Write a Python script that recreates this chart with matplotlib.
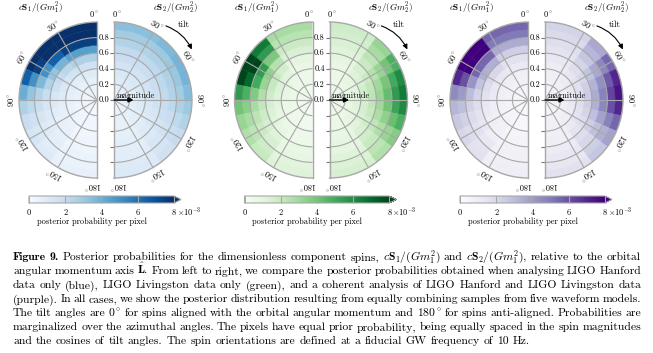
import numpy as np
import matplotlib.pyplot as plt
from matplotlib import cm, colors
from matplotlib.markers import TICKLEFT

plt.rcParams['font.family'] = ['cmr10', 'DejaVu Serif']
plt.rcParams['mathtext.fontset'] = 'cm'
plt.rcParams['axes.unicode_minus'] = False

# pixel grid: equal steps in spin magnitude and in cos(tilt)
magnitude_edges = [0.0, 0.1, 0.2, 0.3, 0.4, 0.5, 0.6, 0.7, 0.8, 0.9, 1.0]
cos_tilt_edges = [1.0, 0.8, 0.6, 0.4, 0.2, 0.0, -0.2, -0.4, -0.6, -0.8, -1.0]
tilt_ticks = [0, 30, 60, 90, 120, 150, 180]
radial_ticks = [0.0, 0.2, 0.4, 0.6, 0.8]
cbar_ticks = [0, 2, 4, 6, 8]

# posterior probability per pixel (x 1e-3)
# rows: magnitude bins 0-0.1 ... 0.9-1.0, columns: cos(tilt) bins 1 -> -1
hanford_s1 = [
    [0.4, 0.4, 0.4, 0.4, 0.3, 0.3, 0.3, 0.3, 0.3, 0.2],
    [0.5, 0.5, 0.5, 0.4, 0.4, 0.4, 0.4, 0.3, 0.3, 0.2],
    [0.7, 0.6, 0.6, 0.6, 0.5, 0.5, 0.4, 0.4, 0.3, 0.3],
    [1.0, 0.9, 0.9, 0.8, 0.7, 0.6, 0.5, 0.5, 0.4, 0.3],
    [1.6, 1.5, 1.3, 1.2, 1.0, 0.8, 0.7, 0.6, 0.5, 0.3],
    [2.6, 2.3, 2.0, 1.7, 1.4, 1.1, 0.9, 0.7, 0.6, 0.4],
    [4.5, 3.8, 3.2, 2.5, 1.9, 1.4, 1.1, 0.9, 0.7, 0.4],
    [7.5, 6.5, 5.0, 3.6, 2.5, 1.8, 1.4, 1.0, 0.8, 0.5],
    [9.5, 9.2, 7.5, 5.0, 3.2, 2.2, 1.6, 1.2, 0.9, 0.5],
    [9.5, 9.5, 9.0, 6.5, 4.0, 2.6, 1.9, 1.4, 1.0, 0.6],
]
hanford_s2 = [
    [0.6, 0.6, 0.6, 0.6, 0.6, 0.6, 0.6, 0.5, 0.5, 0.5],
    [0.8, 0.8, 0.8, 0.8, 0.7, 0.7, 0.7, 0.6, 0.6, 0.5],
    [1.0, 1.0, 1.0, 0.9, 0.9, 0.9, 0.8, 0.8, 0.7, 0.6],
    [1.2, 1.2, 1.2, 1.2, 1.1, 1.1, 1.0, 0.9, 0.8, 0.6],
    [1.5, 1.5, 1.5, 1.5, 1.4, 1.3, 1.2, 1.0, 0.9, 0.7],
    [1.8, 1.8, 1.8, 1.8, 1.7, 1.6, 1.4, 1.2, 1.0, 0.8],
    [2.1, 2.2, 2.2, 2.2, 2.1, 1.9, 1.7, 1.4, 1.1, 0.8],
    [2.5, 2.6, 2.6, 2.6, 2.5, 2.2, 1.9, 1.6, 1.3, 0.9],
    [2.9, 3.0, 3.1, 3.1, 2.9, 2.6, 2.2, 1.8, 1.4, 1.0],
    [3.4, 3.6, 3.8, 3.8, 3.5, 3.0, 2.5, 2.0, 1.6, 1.1],
]
livingston_s1 = [
    [0.4, 0.4, 0.4, 0.4, 0.4, 0.4, 0.4, 0.4, 0.3, 0.3],
    [0.4, 0.5, 0.5, 0.5, 0.5, 0.5, 0.4, 0.4, 0.4, 0.3],
    [0.5, 0.6, 0.6, 0.6, 0.6, 0.6, 0.6, 0.5, 0.5, 0.4],
    [0.6, 0.8, 0.9, 0.9, 0.9, 0.8, 0.7, 0.7, 0.6, 0.4],
    [0.8, 1.1, 1.3, 1.3, 1.2, 1.1, 1.0, 0.9, 0.7, 0.5],
    [1.0, 1.6, 2.0, 2.0, 1.8, 1.5, 1.3, 1.1, 0.9, 0.6],
    [1.4, 2.5, 3.4, 3.2, 2.6, 2.1, 1.8, 1.5, 1.2, 0.8],
    [1.9, 3.8, 5.5, 5.0, 3.7, 2.8, 2.3, 1.9, 1.5, 0.9],
    [2.4, 5.5, 8.5, 7.0, 4.8, 3.5, 2.8, 2.3, 1.8, 1.1],
    [2.8, 6.5, 9.5, 8.0, 5.5, 4.0, 3.2, 2.6, 2.0, 1.2],
]
livingston_s2 = [
    [0.5, 0.5, 0.5, 0.5, 0.5, 0.5, 0.5, 0.5, 0.5, 0.5],
    [0.5, 0.6, 0.6, 0.6, 0.7, 0.7, 0.6, 0.6, 0.6, 0.5],
    [0.6, 0.7, 0.8, 0.8, 0.9, 0.9, 0.8, 0.8, 0.7, 0.6],
    [0.7, 0.9, 1.0, 1.1, 1.2, 1.2, 1.1, 1.0, 0.9, 0.7],
    [0.8, 1.2, 1.4, 1.6, 1.6, 1.6, 1.5, 1.3, 1.1, 0.8],
    [1.0, 1.5, 1.9, 2.2, 2.3, 2.2, 2.0, 1.7, 1.4, 0.9],
    [1.2, 1.9, 2.5, 3.0, 3.2, 3.0, 2.7, 2.2, 1.7, 1.0],
    [1.4, 2.3, 3.2, 3.9, 4.3, 4.0, 3.4, 2.7, 2.0, 1.2],
    [1.6, 2.8, 4.0, 5.0, 5.5, 5.2, 4.2, 3.2, 2.3, 1.3],
    [1.8, 3.2, 4.8, 6.0, 6.5, 6.0, 4.8, 3.6, 2.6, 1.5],
]
combined_s1 = [
    [0.4, 0.4, 0.4, 0.4, 0.4, 0.4, 0.4, 0.4, 0.3, 0.3],
    [0.5, 0.5, 0.5, 0.5, 0.5, 0.5, 0.5, 0.4, 0.4, 0.3],
    [0.7, 0.7, 0.7, 0.7, 0.7, 0.6, 0.6, 0.5, 0.5, 0.4],
    [0.9, 1.0, 1.0, 0.9, 0.9, 0.8, 0.7, 0.6, 0.6, 0.4],
    [1.2, 1.4, 1.4, 1.3, 1.2, 1.0, 0.9, 0.8, 0.7, 0.5],
    [1.6, 2.1, 2.1, 1.9, 1.6, 1.3, 1.2, 1.0, 0.8, 0.6],
    [2.4, 3.4, 3.4, 2.8, 2.2, 1.8, 1.5, 1.3, 1.0, 0.7],
    [3.5, 5.5, 5.5, 4.2, 3.0, 2.3, 1.9, 1.6, 1.3, 0.8],
    [5.0, 8.5, 8.5, 6.0, 4.0, 2.9, 2.3, 1.9, 1.5, 0.9],
    [5.5, 9.0, 9.5, 7.0, 4.5, 3.2, 2.6, 2.1, 1.6, 1.0],
]
combined_s2 = [
    [0.6, 0.6, 0.6, 0.6, 0.6, 0.6, 0.6, 0.6, 0.6, 0.6],
    [0.7, 0.7, 0.7, 0.8, 0.8, 0.8, 0.7, 0.7, 0.7, 0.6],
    [0.8, 0.9, 0.9, 1.0, 1.0, 1.0, 0.9, 0.9, 0.8, 0.7],
    [0.9, 1.1, 1.2, 1.3, 1.3, 1.3, 1.2, 1.1, 1.0, 0.8],
    [1.1, 1.4, 1.6, 1.7, 1.8, 1.8, 1.6, 1.5, 1.2, 0.9],
    [1.3, 1.8, 2.1, 2.4, 2.5, 2.4, 2.2, 1.9, 1.5, 1.0],
    [1.5, 2.2, 2.8, 3.3, 3.5, 3.4, 2.9, 2.4, 1.8, 1.1],
    [1.8, 2.7, 3.6, 4.4, 4.8, 4.6, 3.8, 2.9, 2.1, 1.3],
    [2.0, 3.2, 4.6, 5.8, 6.3, 6.0, 4.8, 3.4, 2.4, 1.4],
    [2.2, 3.6, 5.5, 7.0, 7.5, 7.0, 5.5, 3.8, 2.7, 1.6],
]

panels = [
    (hanford_s1, hanford_s2, 'Blues'),
    (livingston_s1, livingston_s2, 'Greens'),
    (combined_s1, combined_s2, 'Purples'),
]

caption = [
    r"Figure 9. Posterior probabilities for the dimensionless component spins, $c\mathbf{S}_1/(Gm_1^2)$ and $c\mathbf{S}_2/(Gm_1^2)$, relative to the orbital",
    r"angular momentum axis $\hat{\mathbf{L}}$. From left to right, we compare the posterior probabilities obtained when analysing LIGO Hanford",
    r"data only (blue), LIGO Livingston data only (green), and a coherent analysis of LIGO Hanford and LIGO Livingston data",
    r"(purple). In all cases, we show the posterior distribution resulting from equally combining samples from five waveform models.",
    r"The tilt angles are $0^\circ$ for spins aligned with the orbital angular momentum and $180^\circ$ for spins anti-aligned. Probabilities are",
    r"marginalized over the azimuthal angles. The pixels have equal prior probability, being equally spaced in the spin magnitudes",
    r"and the cosines of tilt angles. The spin orientations are defined at a fiducial GW frequency of 10 Hz.",
]

W, H = 653, 353
R = 78          # disk radius in px
CY = 100        # disk centre row in px
GRAY = '#a8a8a8'
fig = plt.figure(figsize=(W / 100, H / 100), dpi=100)
norm = colors.Normalize(vmin=0, vmax=8)


def fx(px):
    return px / W


def fy(px):
    return 1 - px / H


def half_disk(cx, values, cmap, left):
    # a half wedge sits in a square box, centred horizontally
    x0 = cx - 1.5 * R if left else cx - 0.5 * R
    ax = fig.add_axes([fx(x0), fy(CY + R), fx(2 * R), 2 * R / H], projection='polar')
    ax.set_theta_zero_location('N')
    ax.set_theta_direction(1 if left else -1)
    ax.set_thetamin(0)
    ax.set_thetamax(180)

    tilt = np.arccos(cos_tilt_edges)
    vals = np.array(values)
    th_c, r_b = np.meshgrid((tilt[:-1] + tilt[1:]) / 2, magnitude_edges[:-1])
    th_w, r_h = np.meshgrid(np.diff(tilt), np.diff(magnitude_edges))
    cols = cmap(norm(vals.ravel()))
    ax.bar(th_c.ravel(), r_h.ravel(), width=th_w.ravel(), bottom=r_b.ravel(),
           color=cols, edgecolor=cols, linewidth=0.3)

    ax.set_rlim(0, 1)
    ax.set_xticks(np.radians(tilt_ticks[1:-1]))
    ax.set_xticklabels([])
    ax.set_yticks(radial_ticks[1:])
    ax.set_yticklabels([])
    ax.tick_params(length=0)
    ax.grid(True, color=GRAY, lw=0.8)
    for sp in ax.spines.values():
        sp.set_color(GRAY)
        sp.set_linewidth(1.0)

    sgn = 1 if left else -1
    for a in tilt_ticks:
        aa = a
        if a == 0:
            aa = 2
        elif a == 180:
            aa = 177
        ax.text(np.radians(aa), 1.1, rf'${a}^\circ$', rotation=sgn * a,
                rotation_mode='anchor', ha='center', va='center', fontsize=6)
    return ax


for p, (s1, s2, cname) in enumerate(panels):
    off = p * 215.5
    cmap = plt.get_cmap(cname)
    half_disk(97 + off, s1, cmap, True)
    axr = half_disk(114 + off, s2, cmap, False)

    # radial axis on the straight edge of the right half
    for r in radial_ticks:
        axr.annotate(f'{r:.1f}', xy=(0, r), xytext=(-3.5, 0), textcoords='offset points',
                     ha='right', va='center', fontsize=6)
    axr.plot(np.zeros(len(radial_ticks)), radial_ticks, ls='none', marker=TICKLEFT,
             ms=3, mew=0.8, color='#777777', clip_on=False)
    axr.plot(np.full(len(radial_ticks) - 1, np.pi), radial_ticks[1:], ls='none',
             marker=TICKLEFT, ms=3, mew=0.8, color='#777777', clip_on=False)

    # magnitude arrow from the centre outwards
    axr.annotate('', xy=(np.pi / 2, 0.25), xytext=(-14, 0), textcoords='offset points',
                 arrowprops=dict(arrowstyle='-|>', color='k', lw=1.0,
                                 mutation_scale=7, shrinkA=0, shrinkB=0))
    axr.text(np.pi / 2, 0.03, 'magnitude', ha='left', va='bottom', fontsize=6)
    axr.annotate('', xy=(np.radians(57), 1.19), xytext=(np.radians(35), 1.16),
                 arrowprops=dict(arrowstyle='-|>', color='k', lw=0.8, mutation_scale=7,
                                 connectionstyle='arc3,rad=-0.2', shrinkA=0, shrinkB=0),
                 annotation_clip=False)
    axr.text(np.radians(43), 1.31, 'tilt', ha='center', va='center', fontsize=6.5)

    fig.text(fx(18 + off), fy(8), r'$c\mathbf{S}_1/(Gm_1^2)$', ha='left', va='center', fontsize=6.5)
    fig.text(fx(198 + off), fy(8), r'$c\mathbf{S}_2/(Gm_2^2)$', ha='right', va='center', fontsize=6.5)

    cax = fig.add_axes([fx(29 + off), fy(203), fx(152), 7 / H])
    sm = cm.ScalarMappable(norm=norm, cmap=cmap)
    cb = fig.colorbar(sm, cax=cax, orientation='horizontal', extend='max', ticks=cbar_ticks)
    cb.outline.set_edgecolor(GRAY)
    cb.outline.set_linewidth(0.8)
    cax.set_xticklabels([str(t) for t in cbar_ticks])
    cax.tick_params(direction='in', length=5, width=0.8, color=GRAY, labelsize=6, pad=4)
    fig.text(fx(177 + off), fy(212), r'$\times10^{-3}$', ha='left', va='center', fontsize=6)
    fig.text(fx(92 + off), fy(222), 'posterior probability per pixel', ha='center',
             va='center', fontsize=6)

# justified caption
renderer = fig.canvas.get_renderer()
x0, x1 = 13, 641
size = 8.4
for k, line in enumerate(caption):
    yb = fy(260.5 + 14 * k)
    words = line.split(' ')
    texts = []
    for i, w in enumerate(words):
        fam = ['cmb10'] if (k == 0 and i < 2) else ['cmr10', 'DejaVu Serif']
        texts.append(fig.text(0, yb, w, ha='left', va='baseline', fontsize=size, family=fam))
    widths = [t.get_window_extent(renderer).width for t in texts]
    if k < len(caption) - 1:
        gap = (x1 - x0 - sum(widths)) / (len(words) - 1)
    else:
        gap = size * 100 / 72 * 0.33
    x = x0
    for t, w in zip(texts, widths):
        t.set_x(fx(x))
        x += w + gap

fig.savefig('out.png', dpi=100)
